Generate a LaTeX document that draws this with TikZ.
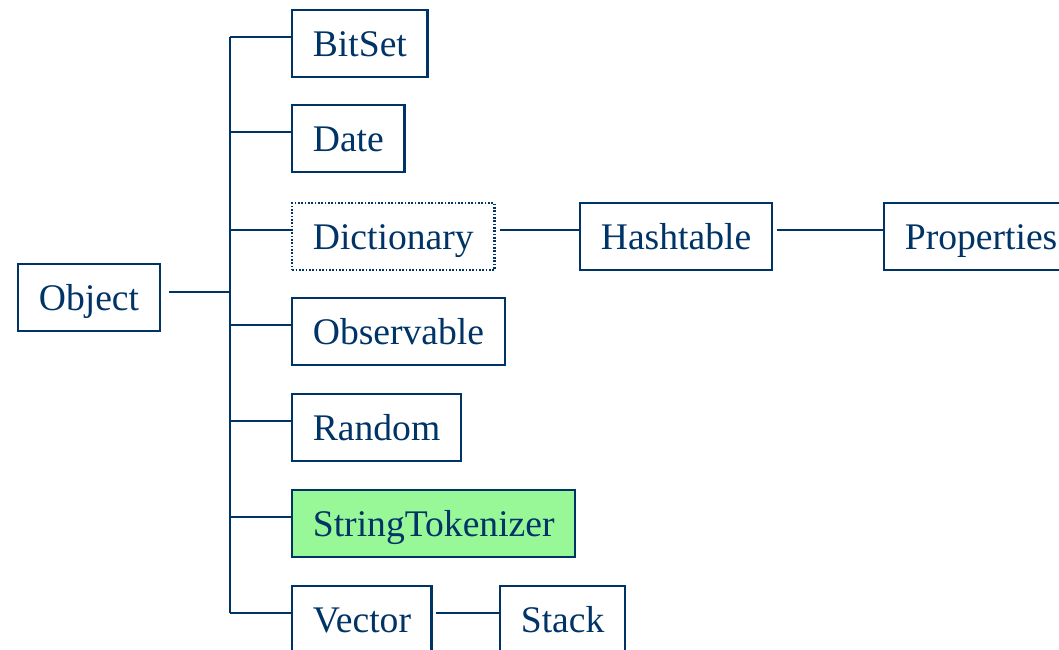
\documentclass[tikz,border=0pt]{standalone}
\usepackage{fontspec}
\setmainfont{Liberation Serif}
\definecolor{navy}{RGB}{0,51,102}
\definecolor{tokgreen}{RGB}{152,248,152}

\begin{document}
\begin{tikzpicture}[x=0.75pt,y=-0.75pt,
    cls/.style={draw=navy,text=navy,line width=1.8pt,anchor=north west,
      text height=23pt,text depth=3pt,inner ysep=12pt,inner xsep=15.5pt,
      font=\fontsize{28.2}{30}\selectfont},
    abstract/.style={cls,dash pattern=on 1.3pt off 1.2pt},
    link/.style={navy,line width=1.8pt}]
  \useasboundingbox (0,0) rectangle (1059,649);

      \node[cls](object) at (17,263){Object};
        \node[cls](bitset) at (291,9){BitSet};
        \node[cls](date) at (291,104){Date};
        \node[abstract](dictionary) at (291,202){Dictionary};
        \node[cls](observable) at (291,297){Observable};
        \node[cls](random) at (291,393){Random};
        \node[cls,fill=tokgreen](tokenizer) at (291,489){StringTokenizer};
        \node[cls](vector) at (291,585){Vector};
                \node[cls](hashtable) at (579,202){Hashtable};
                \node[cls](properties) at (883,202){Properties};
                \node[cls](stack) at (499,585){Stack};

  \coordinate(trunk) at (230,0);
          \draw[link]([yshift=5pt]bitset.west -| trunk)--([yshift=5pt]vector.west -| trunk);
          \draw[link]([xshift=6pt,yshift=4pt]object.east)--([yshift=4pt]object.east -| trunk);
  \foreach \n in {bitset,date,dictionary,observable,random,tokenizer,vector}
          \draw[link]([yshift=5pt]\n.west)--([yshift=5pt]\n.west -| trunk);
  \draw[link]([xshift=3pt,yshift=5pt]dictionary.east)--([yshift=5pt]hashtable.west);
  \draw[link]([xshift=3pt,yshift=5pt]hashtable.east)--([yshift=5pt]properties.west);
  \draw[link]([xshift=2.5pt,yshift=5pt]vector.east)--([yshift=5pt]stack.west);

\end{tikzpicture}
\end{document}
